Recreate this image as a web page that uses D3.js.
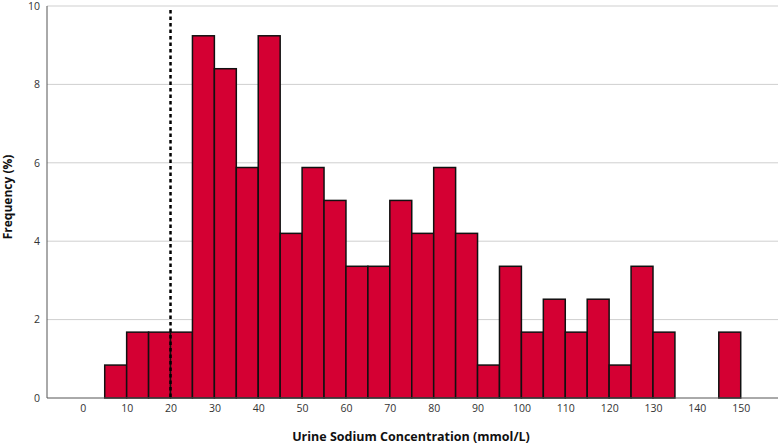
<!DOCTYPE html>
<html>
<head>
<meta charset="utf-8">
<script src="https://cdn.jsdelivr.net/npm/d3@7"></script>
<style>
  html, body { margin: 0; padding: 0; background: #fff; }
  text { font-family: "Open Sans", "DejaVu Sans", sans-serif; }
</style>
</head>
<body>
<svg id="chart" width="780" height="445"></svg>
<script>
// Bin lower edges (mmol/L), bin width 5
const binStarts = [5,10,15,20,25,30,35,40,45,50,55,60,65,70,75,80,85,90,95,100,105,110,115,120,125,130,135,140,145];
// Frequency (%) per bin
const frequencies = [0.84,1.68,1.68,1.68,9.24,8.40,5.88,9.24,4.20,5.88,5.04,3.36,3.36,5.04,4.20,5.88,4.20,0.84,3.36,1.68,2.52,1.68,2.52,0.84,3.36,1.68,0,0,1.68];
const binWidth = 5;
const xTicks = [0,10,20,30,40,50,60,70,80,90,100,110,120,130,140,150];
const yTicks = [0,2,4,6,8,10];
const cutoff = 20;

(function () {
const svg = d3.select("#chart");
const pL = 47, pR = 778, pT = 6, pB = 398;

const x = d3.scaleLinear().domain([-8.16, 158.5]).range([pL, pR]);
const y = d3.scaleLinear().domain([0, 10]).range([pB, pT]);

// gridlines
svg.append("g").selectAll("line").data(yTicks.filter(d => d > 0)).join("line")
  .attr("x1", pL).attr("x2", pR)
  .attr("y1", d => y(d)).attr("y2", d => y(d))
  .attr("stroke", "#cfcfcf").attr("stroke-width", 1);

// bars
svg.append("g").selectAll("rect")
  .data(binStarts.map((s, i) => ({s, v: frequencies[i]})).filter(d => d.v > 0))
  .join("rect")
  .attr("x", d => x(d.s))
  .attr("width", d => x(d.s + binWidth) - x(d.s))
  .attr("y", d => y(d.v))
  .attr("height", d => y(0) - y(d.v))
  .attr("fill", "#d40033")
  .attr("stroke", "#111")
  .attr("stroke-width", 1.5);

// dashed cutoff line
svg.append("line")
  .attr("x1", x(cutoff)).attr("x2", x(cutoff))
  .attr("y1", 10).attr("y2", pB)
  .attr("stroke", "#000").attr("stroke-width", 2.5)
  .attr("stroke-dasharray", "3.5,3");

// axes
const xAxis = d3.axisBottom(x).tickValues(xTicks).tickSize(0).tickPadding(6);
const gx = svg.append("g").attr("transform", `translate(0,${pB})`).call(xAxis);
gx.select(".domain").attr("stroke", "#555").attr("d", `M${pL},0H${pR}`);
gx.selectAll("text").attr("font-size", 10.5).attr("fill", "#333")
  .attr("font-family", "'Open Sans', sans-serif").attr("dy", "0.75em");

const yAxis = d3.axisLeft(y).tickValues(yTicks).tickSize(0).tickPadding(7);
const gy = svg.append("g").attr("transform", `translate(${pL},0)`).call(yAxis);
gy.select(".domain").attr("stroke", "#555").attr("d", `M0,${pT}V${pB}`);
gy.selectAll("text").attr("font-size", 10.5).attr("fill", "#333")
  .attr("font-family", "'Open Sans', sans-serif");

// axis titles
svg.append("text")
  .attr("x", 411).attr("y", 441)
  .attr("text-anchor", "middle")
  .attr("font-size", 12.5).attr("font-weight", "bold").attr("fill", "#111")
  .text("Urine Sodium Concentration (mmol/L)");

svg.append("text")
  .attr("transform", `translate(12,197) rotate(-90)`)
  .attr("text-anchor", "middle")
  .attr("font-size", 12).attr("font-weight", "bold").attr("fill", "#111")
  .text("Frequency (%)");
})();
</script>
</body>
</html>
